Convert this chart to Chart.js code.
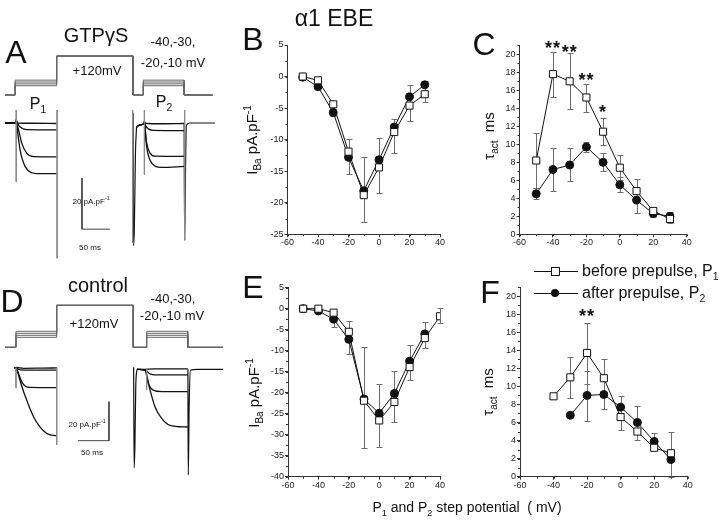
<!DOCTYPE html>
<html>
<head>
<meta charset="utf-8">
<script src="https://cdn.jsdelivr.net/npm/chart.js@4.4.1/dist/chart.umd.min.js"></script>
<style>
  html, body { margin: 0; padding: 0; background: #fff; }
  #fig { position: relative; width: 720px; height: 522px; overflow: hidden;
         font-family: "Liberation Sans", Arial, sans-serif; color: #111; }
  canvas { position: absolute; }
  .t { position: absolute; white-space: nowrap; line-height: 1; transform: translate(-50%, -50%); }
  .t sub, .t sup { font-size: 65%; line-height: 0; }
  .lgline { position: absolute; height: 1px; background: #111; }
  .lgsq { position: absolute; width: 7px; height: 7px; border: 1px solid #111; background: #fff; }
  .lgdot { position: absolute; width: 8px; height: 8px; border-radius: 50%; background: #111; }
</style>
</head>
<body>
<div id="fig">
  <canvas id="chart-a" width="230" height="270" style="left:0;top:0"></canvas>
  <canvas id="chart-d" width="230" height="252" style="left:0;top:270px"></canvas>
  <canvas id="chart-b" width="220" height="240" style="left:230px;top:20px"></canvas>
  <canvas id="chart-c" width="240" height="240" style="left:470px;top:20px"></canvas>
  <canvas id="chart-e" width="220" height="240" style="left:230px;top:262px"></canvas>
  <canvas id="chart-f" width="240" height="240" style="left:470px;top:262px"></canvas>

  <div class="t" style="left:334px;top:18px;font-size:23px">α1 EBE</div>
  <div class="t" style="left:16px;top:52px;font-size:32px">A</div>
  <div class="t" style="left:253px;top:39px;font-size:32px">B</div>
  <div class="t" style="left:484px;top:44px;font-size:32px">C</div>
  <div class="t" style="left:12px;top:301px;font-size:32px">D</div>
  <div class="t" style="left:253px;top:287px;font-size:32px">E</div>
  <div class="t" style="left:490px;top:292px;font-size:32px">F</div>

  <div class="t" style="left:96px;top:35px;font-size:20px">GTPγS</div>
  <div class="t" style="left:97px;top:70px;font-size:13px">+120mV</div>
  <div class="t" style="left:173px;top:41px;font-size:13px">-40,-30,</div>
  <div class="t" style="left:173px;top:62px;font-size:13px">-20,-10 mV</div>
  <div class="t" style="left:38px;top:104px;font-size:16px">P<sub>1</sub></div>
  <div class="t" style="left:164px;top:102px;font-size:16px">P<sub>2</sub></div>
  <div class="t" style="left:91px;top:202px;font-size:8px">20 pA.pF<sup>-1</sup></div>
  <div class="t" style="left:90px;top:248px;font-size:8px">50 ms</div>

  <div class="t" style="left:98px;top:285px;font-size:20px">control</div>
  <div class="t" style="left:94px;top:323px;font-size:13px">+120mV</div>
  <div class="t" style="left:173px;top:298px;font-size:13px">-40,-30,</div>
  <div class="t" style="left:172px;top:315px;font-size:13px">-20,-10 mV</div>
  <div class="t" style="left:87px;top:425px;font-size:8px">20 pA.pF<sup>-1</sup></div>
  <div class="t" style="left:92px;top:453px;font-size:8px">50 ms</div>

  <div class="t" style="left:467px;top:507px;font-size:14px">P<sub>1</sub> and P<sub>2</sub> step potential&nbsp; ( mV)</div>

  <div class="lgline" style="left:534px;top:271px;width:44px"></div>
  <div class="lgsq" style="left:551px;top:267px"></div>
  <div class="t" style="left:582px;top:271px;font-size:16px;transform:translate(0,-50%)">before prepulse, P<sub>1</sub></div>
  <div class="lgline" style="left:534px;top:293px;width:44px"></div>
  <div class="lgdot" style="left:551px;top:289px"></div>
  <div class="t" style="left:582px;top:293px;font-size:16px;transform:translate(0,-50%)">after prepulse, P<sub>2</sub></div>
</div>

<script>
// step potentials (mV)
var STEP_MV = [-50, -40, -30, -20, -10, 0, 10, 20, 30];
var STEP_MV_TO40 = [-50, -40, -30, -20, -10, 0, 10, 20, 30, 40];
var STEP_MV_F_BEFORE = [-40, -30, -20, -10, 0, 10, 20, 30];
var STEP_MV_F_AFTER = [-30, -20, -10, 0, 10, 20, 30];

// B: GTPγS, I-V (pA/pF)
var B_BEFORE = [0, -0.6, -4.4, -11.9, -18.8, -14.4, -8.8, -4.6, -2.8];
var B_AFTER = [-0.1, -1.6, -5.7, -12.8, -18.1, -13.2, -8.0, -3.2, -1.3];
var B_BEFORE_LO = [null, null, null, null, null, -18.4, -12.1, -7.0, -4.0];
var B_BEFORE_HI = [null, null, null, null, null, -9.8, -6.7, -1.4, -0.7];
var B_AFTER_LO = [null, null, -6.2, -15.4, -23.1, null, null, null, null];
var B_AFTER_HI = [null, null, -5.3, -9.9, -12.7, null, null, null, null];

// C: GTPγS, tau act (ms)
var C_BEFORE = [8.2, 17.8, 17.0, 15.2, 11.4, 7.4, 4.8, 2.6, 1.7];
var C_AFTER = [4.5, 7.2, 7.7, 9.7, 8.0, 5.5, 3.8, 2.3, 2.0];
var C_BEFORE_LO = [5.1, 15.3, 13.9, 13.6, 9.9, 6.0, 4.8, 1.9, 1.3];
var C_BEFORE_HI = [11.3, 20.3, 20.1, 16.7, 12.9, 8.8, 6.1, 2.9, 2.5];
var C_AFTER_LO = [3.9, 4.85, 5.9, 9.1, 7.0, 4.7, 2.4, null, null];
var C_AFTER_HI = [5.1, 9.6, 9.6, 10.3, 9.0, 6.4, 4.8, null, null];
var C_STAR_X = [-40, -30, -20, -10];
var C_STAR_Y = [21.2, 20.7, 17.6, 14.1];
var C_STAR_TEXT = ['**', '**', '**', '*'];

// E: control, I-V (pA/pF)
var E_BEFORE = [0, 0, -0.95, -5.5, -21.9, -26.6, -22.2, -13.9, -7.0, -1.8];
var E_AFTER = [0, -0.55, -2.5, -7.3, -21.5, -24.9, -20.2, -12.5, -6.0];
var E_BEFORE_LO = [null, null, null, null, -33.1, -33.0, -26.9, -16.9, -9.3, -3.5];
var E_BEFORE_HI = [null, null, null, null, -9.1, -18.0, -14.9, -8.6, -3.2, 0.1];
var E_AFTER_LO = [null, null, -4.4, -10.7, null, null, null, null, null];
var E_AFTER_HI = [null, null, -1.2, -3.0, null, null, null, null, null];

// F: control, tau act (ms)
var F_BEFORE = [8.9, 11.0, 13.7, 10.9, 6.6, 5.0, 3.2, 2.6];
var F_AFTER = [6.8, 9.0, 9.1, 7.7, 6.0, 3.9, 1.9];
var F_BEFORE_LO = [null, 8.7, 10.3, 7.5, null, null, null, 0];
var F_BEFORE_HI = [null, 13.3, 17.0, 13.0, null, null, null, 5.0];
var F_AFTER_LO = [null, 6.2, null, 5.2, 4.1, 3.0, null];
var F_AFTER_HI = [null, 11.7, null, 8.9, 7.8, 4.8, null];
var F_STAR_X = [-20];
var F_STAR_Y = [18.3];
var F_STAR_TEXT = ['**'];

// y-axis titles, as [text, 'n' | 'sub' | 'sup'] runs
var IV_TITLE = [['I', 'n'], ['Ba', 'sub'], [' pA.pF', 'n'], ['-1', 'sup']];
var TAU_TITLE = [['τ', 'n'], ['act', 'sub'], ['  ms', 'n']];

// voltage protocol (mV): holding, prepulse, test steps
var HOLD_MV = -90;
var PREPULSE_MV = 120;
var TEST_MV = [-40, -30, -20, -10];
// protocol edge times (ms): start, P1 on, P1 off, prepulse off, P2 on, P2 off, end
var A_PROT_T = [0, 18, 92.3, 229, 247, 320, 371];
var D_PROT_T = [0, 17.7, 83.4, 207, 228.5, 294.7, 351.6];

// A: GTPγS current sweeps, [ms, pA/pF]
var A_P1_SWEEPS = [
  [[0, 0], [19, 0.1], [20, 1.2], [21.5, 0], [50, -0.1], [92, -0.2]],
  [[0, 0], [19, 0.1], [20, 1.2], [22, 0], [27, -1.6], [39, -2.6], [92, -2.7]],
  [[0, 0], [19, 0.1], [20, 1.2], [21, -0.3], [24, -2.5], [30, -8], [39, -11.9], [51, -13.2], [92, -13.3]],
  [[0, 0], [19, 0.1], [20, 1.2], [21, -0.8], [27, -10.6], [36, -17.1], [48, -19.5], [57, -19.8], [92, -19.8]]
];
var A_P2_SWEEPS = [
  [[235, -1.5], [240, -0.8], [248, -0.3], [249, 0.6], [250.5, -0.1], [280, -0.3], [320, -0.2]],
  [[235, -1.5], [240, -0.8], [248, -0.3], [249, 0.6], [251, -1], [256, -2.3], [265, -2.9], [320, -3.0]],
  [[235, -1.5], [240, -0.8], [248, -0.3], [249, 0.6], [250.5, -2.5], [253, -7.7], [259, -11.7], [268, -13], [320, -13.1]],
  [[235, -1.5], [240, -0.8], [248, -0.3], [249, 0.6], [250.5, -3], [253, -9.3], [259, -14.5], [268, -16.9], [280, -17.4], [320, -17]]
];
var A_TAILS = [
  [[228.8, 4], [229.5, -48], [231, -42], [233, -12], [235, -1.5]],
  [[320, -0.5], [321, -46], [322.5, -18], [324, -1], [330, 0], [375, 0]]
];
var A_ARTIFACTS = [[20, 5.1, -23.1], [93, 5.1, -53], [228, 5.1, -47], [249, 5.1, -20.4], [321, 5.1, -46]];
var A_SCALE_BAR = [[137.5, -21.6], [137.5, -41.6], [187.5, -41.6]];

// D: control current sweeps, [ms, pA/pF]
var D_P1_SWEEPS = [
  [[15, 0.3], [18, 0.4], [30, 0], [60, 0.1], [84, 0.2]],
  [[15, 0.3], [18, 0.2], [22, -0.5], [30, -0.9], [84, -0.9]],
  [[15, 0.3], [18, 0], [21, -2], [24, -4.5], [28, -7.5], [33, -9.2], [40, -9.8], [84, -9.9]],
  [[15, 0.3], [18, 0], [20, -1.5], [24, -6], [30, -12], [35, -16.3], [40, -20.5], [46, -24.8], [56, -29.9], [67, -33.3], [75, -34.3], [84, -34.5]]
];
var D_P2_SWEEPS = [
  [[213, -0.5], [225, -0.6], [240, -0.3], [295, -0.3]],
  [[213, -0.5], [225.8, -0.9], [234, -2.9], [242, -3.4], [295, -3.4]],
  [[213, -0.5], [225.8, -0.9], [231, -7.7], [239, -11.2], [253, -12], [295, -12]],
  [[213, -0.5], [225.8, -0.9], [234, -11.2], [242, -19.8], [253, -25.8], [266, -29.2], [295, -30.1]]
];
var D_TAILS = [
  [[207.5, 0.5], [208.3, -51], [209.5, -40], [211, -8], [213, -0.5]],
  [[295, -0.5], [295.6, -54.7], [297, -20], [299, -1], [310, -0.5], [351.6, -0.5]]
];
var D_ARTIFACTS = [[17.7, 0.3, -10.1], [83.4, 0.3, -39.3], [228.5, 0, -11]];
var D_SCALE_BAR = [[167.7, -17.1], [167.7, -37.1], [117.7, -37.1]];

(function () {
  var FONT = '"Liberation Sans", Arial, sans-serif';
  var INK = '#111';
  var AXIS = '#333';
  var ERR = '#6e6e6e';

  function pts(xs, ys) {
    return xs.map(function (x, i) { return { x: x, y: ys[i] }; });
  }
  function pairs(list) {
    return list.map(function (p) { return { x: p[0], y: p[1] }; });
  }

  // error bars drawn from the dataset's lo/hi arrays via the chart scales
  var errorBarPlugin = {
    id: 'errorBars',
    beforeDatasetsDraw: function (chart) {
      var ctx = chart.ctx, xs = chart.scales.x, ys = chart.scales.y;
      ctx.save();
      ctx.strokeStyle = ERR;
      ctx.lineWidth = 1;
      chart.data.datasets.forEach(function (ds) {
        if (!ds.errLo) return;
        ds.data.forEach(function (p, i) {
          var lo = ds.errLo[i], hi = ds.errHi[i];
          if (lo == null || hi == null) return;
          var x = Math.round(xs.getPixelForValue(p.x)) + 0.5;
          var y1 = Math.round(ys.getPixelForValue(lo)) + 0.5;
          var y2 = Math.round(ys.getPixelForValue(hi)) + 0.5;
          ctx.beginPath();
          ctx.moveTo(x, y1); ctx.lineTo(x, y2);
          ctx.moveTo(x - 3, y1); ctx.lineTo(x + 3, y1);
          ctx.moveTo(x - 3, y2); ctx.lineTo(x + 3, y2);
          ctx.stroke();
        });
      });
      ctx.restore();
    }
  };

  var minorTickPlugin = {
    id: 'minorTicks',
    afterDraw: function (chart, args, opts) {
      var ctx = chart.ctx;
      ctx.save();
      ctx.strokeStyle = AXIS;
      ctx.lineWidth = 1;
      ctx.beginPath();
      ['x', 'y'].forEach(function (id) {
        var step = opts[id], sc = chart.scales[id];
        if (!step || !sc) return;
        for (var v = Math.ceil(sc.min / step) * step; v <= sc.max + 1e-9; v += step) {
          var p = Math.round(sc.getPixelForValue(v)) + 0.5;
          if (id === 'x') { ctx.moveTo(p, sc.top); ctx.lineTo(p, sc.top + 2); }
          else { ctx.moveTo(sc.right, p); ctx.lineTo(sc.right - 2, p); }
        }
      });
      ctx.stroke();
      ctx.restore();
    }
  };

  var starPlugin = {
    id: 'stars',
    afterDatasetsDraw: function (chart, args, opts) {
      if (!opts.x) return;
      var ctx = chart.ctx, fs = 18;
      ctx.save();
      ctx.fillStyle = INK;
      ctx.font = 'bold ' + fs + 'px ' + FONT;
      ctx.letterSpacing = '1px';
      ctx.textAlign = 'center';
      ctx.textBaseline = 'alphabetic';
      opts.x.forEach(function (x, i) {
        var px = chart.scales.x.getPixelForValue(x);
        var py = chart.scales.y.getPixelForValue(opts.y[i]);
        ctx.fillText(opts.text[i], px, py + fs * 0.57);
      });
      ctx.restore();
    }
  };

  // rotated y title with sub/superscript runs, placed left of the chart area
  var yTitlePlugin = {
    id: 'yTitle',
    afterDraw: function (chart, args, opts) {
      if (!opts.runs) return;
      var ctx = chart.ctx, fs = 15, small = 10;
      var cx = chart.chartArea.left - opts.dx;
      var cy = opts.cy;
      function font(kind) { return (kind === 'n' ? fs : small) + 'px ' + FONT; }
      ctx.save();
      ctx.fillStyle = INK;
      ctx.textBaseline = 'alphabetic';
      ctx.textAlign = 'left';
      var total = 0;
      opts.runs.forEach(function (r) { ctx.font = font(r[1]); total += ctx.measureText(r[0]).width; });
      ctx.translate(cx, cy);
      ctx.rotate(-Math.PI / 2);
      var x = -total / 2;
      opts.runs.forEach(function (r) {
        ctx.font = font(r[1]);
        var dy = r[1] === 'sub' ? 4 : (r[1] === 'sup' ? -6 : 0);
        ctx.fillText(r[0], x, fs * 0.36 + dy);
        x += ctx.measureText(r[0]).width;
      });
      ctx.restore();
    }
  };

  function axisX() {
    return {
      type: 'linear', min: -60, max: 40,
      ticks: { stepSize: 20, color: '#222', padding: 0, maxRotation: 0, font: { size: 9, family: FONT } },
      grid: { drawOnChartArea: false, drawTicks: true, tickLength: 3, tickColor: AXIS },
      border: { color: AXIS, width: 1 },
      afterFit: function (s) { s.height = 20; }
    };
  }

  function axisY(min, max, step) {
    return {
      type: 'linear', min: min, max: max,
      ticks: { stepSize: step, includeBounds: false, color: '#222', padding: 1, font: { size: 9, family: FONT } },
      grid: { drawOnChartArea: false, drawTicks: true, tickLength: 3, tickColor: AXIS },
      border: { color: AXIS, width: 1 },
      afterFit: function (s) { s.width = 30; }
    };
  }

  function series(xs, ys, lo, hi, before) {
    return {
      data: pts(xs, ys),
      errLo: lo, errHi: hi,
      showLine: true,
      borderColor: INK,
      borderWidth: 1,
      tension: 0,
      pointStyle: before ? 'rect' : 'circle',
      pointRadius: before ? 5 : 4,
      pointBackgroundColor: before ? '#fff' : INK,
      pointBorderColor: INK,
      pointBorderWidth: 1
    };
  }

  function makePlot(id, cfg) {
    return new Chart(document.getElementById(id), {
      type: 'scatter',
      data: {
        datasets: [
          series(cfg.beforeX, cfg.before, cfg.beforeLo, cfg.beforeHi, true),
          series(cfg.afterX, cfg.after, cfg.afterLo, cfg.afterHi, false)
        ]
      },
      options: {
        responsive: false,
        animation: false,
        events: [],
        layout: { padding: cfg.pad },
        plugins: {
          legend: { display: false },
          tooltip: { enabled: false },
          minorTicks: { x: 10, y: cfg.yMinor },
          stars: cfg.stars || {},
          yTitle: cfg.title
        },
        scales: { x: axisX(), y: axisY(cfg.yMin, cfg.yMax, cfg.yStep) }
      },
      plugins: [errorBarPlugin, minorTickPlugin, starPlugin, yTitlePlugin]
    });
  }

  function line(points, color, width, yAxis, smooth) {
    return {
      data: points,
      showLine: true,
      pointRadius: 0,
      borderColor: color,
      borderWidth: width,
      tension: 0,
      cubicInterpolationMode: smooth ? 'monotone' : 'default',
      yAxisID: yAxis
    };
  }

  function protocol(times, v) {
    var ys = [HOLD_MV, HOLD_MV, v, v, PREPULSE_MV, PREPULSE_MV, HOLD_MV, HOLD_MV, v, v, HOLD_MV, HOLD_MV];
    var ts = [times[0], times[1], times[1], times[2], times[2], times[3], times[3], times[4], times[4], times[5], times[5], times[6]];
    return pts(ts, ys);
  }

  function makeTrace(id, cfg) {
    var sets = [];
    TEST_MV.forEach(function (v) { sets.push(line(protocol(cfg.protT, v), '#666', 1, 'v', false)); });
    cfg.artifacts.forEach(function (a) {
      sets.push(line(pairs([[a[0], a[1]], [a[0], a[2]]]), '#8a8a8a', 1, 'y', false));
    });
    cfg.p1.concat(cfg.p2).forEach(function (s) { sets.push(line(pairs(s), INK, 1.3, 'y', true)); });
    cfg.tails.forEach(function (s) { sets.push(line(pairs(s), INK, 1.2, 'y', true)); });
    sets.push(line(pairs(cfg.bar), '#444', 1, 'y', false));
    return new Chart(document.getElementById(id), {
      type: 'scatter',
      data: { datasets: sets },
      options: {
        responsive: false,
        animation: false,
        events: [],
        plugins: { legend: { display: false }, tooltip: { enabled: false } },
        scales: {
          x: { type: 'linear', display: false, min: cfg.xMin, max: cfg.xMax },
          y: { type: 'linear', display: false, min: cfg.iMin, max: cfg.iMax },
          v: { type: 'linear', display: false, min: cfg.vMin, max: cfg.vMax }
        }
      }
    });
  }

  makeTrace('chart-a', {
    protT: A_PROT_T, p1: A_P1_SWEEPS, p2: A_P2_SWEEPS, tails: A_TAILS,
    artifacts: A_ARTIFACTS, bar: A_SCALE_BAR,
    xMin: -9, xMax: 402, iMin: -57.6, iMax: 48.2, vMin: -1032.4, vMax: 421.6
  });
  makeTrace('chart-d', {
    protT: D_PROT_T, p1: D_P1_SWEEPS, p2: D_P2_SWEEPS, tails: D_TAILS,
    artifacts: D_ARTIFACTS, bar: D_SCALE_BAR,
    xMin: -8.06, xMax: 362.9, iMin: -78.8, iMax: 50.4, vMin: -963.5, vMax: 296.5
  });

  makePlot('chart-b', {
    beforeX: STEP_MV, before: B_BEFORE, beforeLo: B_BEFORE_LO, beforeHi: B_BEFORE_HI,
    afterX: STEP_MV, after: B_AFTER, afterLo: B_AFTER_LO, afterHi: B_AFTER_HI,
    yMin: -25, yMax: 5, yStep: 5, yMinor: 2.5,
    title: { runs: IV_TITLE, dx: 36, cy: 120 },
    pad: { left: 27.5, right: 10, top: 25, bottom: 5.7 }
  });
  makePlot('chart-c', {
    beforeX: STEP_MV, before: C_BEFORE, beforeLo: C_BEFORE_LO, beforeHi: C_BEFORE_HI,
    afterX: STEP_MV, after: C_AFTER, afterLo: C_AFTER_LO, afterHi: C_AFTER_HI,
    yMin: 0, yMax: 21, yStep: 2, yMinor: 1,
    stars: { x: C_STAR_X, y: C_STAR_Y, text: C_STAR_TEXT },
    title: { runs: TAU_TITLE, dx: 31, cy: 116 },
    pad: { left: 19.5, right: 23.3, top: 25.3, bottom: 5.7 }
  });
  makePlot('chart-e', {
    beforeX: STEP_MV_TO40, before: E_BEFORE, beforeLo: E_BEFORE_LO, beforeHi: E_BEFORE_HI,
    afterX: STEP_MV, after: E_AFTER, afterLo: E_AFTER_LO, afterHi: E_AFTER_HI,
    yMin: -40, yMax: 5, yStep: 5, yMinor: 2.5,
    title: { runs: IV_TITLE, dx: 34, cy: 131 },
    pad: { left: 28, right: 10, top: 25.7, bottom: 5.3 }
  });
  makePlot('chart-f', {
    beforeX: STEP_MV_F_BEFORE, before: F_BEFORE, beforeLo: F_BEFORE_LO, beforeHi: F_BEFORE_HI,
    afterX: STEP_MV_F_AFTER, after: F_AFTER, afterLo: F_AFTER_LO, afterHi: F_AFTER_HI,
    yMin: 0, yMax: 21, yStep: 2, yMinor: 1,
    stars: { x: F_STAR_X, y: F_STAR_Y, text: F_STAR_TEXT },
    title: { runs: TAU_TITLE, dx: 32, cy: 130 },
    pad: { left: 20, right: 22.3, top: 25, bottom: 5.3 }
  });
})();
</script>
</body>
</html>
